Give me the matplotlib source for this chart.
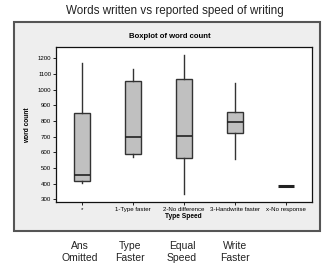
import matplotlib.pyplot as plt
from matplotlib.patches import Rectangle

plt.rcParams['font.family'] = ['Liberation Sans', 'DejaVu Sans']

# --- data ---
categories = ['*', '1-Type faster', '2-No difference', '3-Handwrite faster', 'x-No response']
whisker_lo = [405, 572, 336, 559, 387]
q1 = [417, 591, 564, 725, 387]
median = [453, 696, 706, 792, 387]
q3 = [849, 1057, 1070, 857, 387]
whisker_hi = [1168, 1130, 1221, 1042, 387]
yticks = [300, 400, 500, 600, 700, 800, 900, 1000, 1100, 1200]
bottom_labels = ['Ans\nOmitted', 'Type\nFaster', 'Equal\nSpeed', 'Write\nFaster']

W, H = 331, 269
fig = plt.figure(figsize=(W / 100, H / 100), dpi=100)
fig.patch.set_facecolor('white')

def fx(px):
    return px / W

def fy(py):
    return 1 - py / H

# grey panel behind the boxplot
panel = Rectangle((fx(14), fy(231)), fx(320) - fx(14), fy(22) - fy(231),
                  transform=fig.transFigure, facecolor='#eeeeee',
                  edgecolor='#555555', linewidth=1.5, zorder=-1)
fig.patches.append(panel)

fig.text(fx(175), fy(11), 'Words written vs reported speed of writing',
         ha='center', va='center', fontsize=8.4, color='#222222')
fig.text(fx(170), fy(37), 'Boxplot of word count', ha='center', va='center',
         fontsize=5.6, fontweight='bold')

ax = fig.add_axes([fx(56), fy(202), fx(312) - fx(56), fy(47) - fy(202)])
ax.set_zorder(1)
ax.set_facecolor('white')

stats = []
for i, name in enumerate(categories):
    stats.append({'label': name, 'whislo': whisker_lo[i], 'q1': q1[i],
                  'med': median[i], 'q3': q3[i], 'whishi': whisker_hi[i],
                  'fliers': []})

parts = ax.bxp(stats, positions=range(1, len(categories) + 1), widths=0.33,
               showcaps=False, patch_artist=True, showfliers=False,
               boxprops=dict(facecolor='#c0c0c0', edgecolor='#333333', linewidth=1),
               whiskerprops=dict(color='#333333', linewidth=1),
               medianprops=dict(color='#222222', linewidth=1.2))
# the single "no response" value shows as a heavy bar
parts['medians'][-1].set_linewidth(2.2)
parts['boxes'][-1].set_linewidth(0)

ax.set_xlim(0.49, 5.51)
ax.set_ylim(283, 1272)
ax.set_yticks(yticks)
ax.set_yticklabels([str(v) for v in yticks], fontsize=4.4)
ax.set_xticks(range(1, len(categories) + 1))
ax.set_xticklabels(categories, fontsize=4.4)
ax.tick_params(axis='both', direction='out', length=2, width=0.6, pad=1.5)
for s in ax.spines.values():
    s.set_linewidth(0.9)
    s.set_color('#111111')

fig.text(fx(28), fy(125), 'word count', rotation=90, ha='center', va='center',
         fontsize=4.8, fontweight='bold')
fig.text(fx(183), fy(217), 'Type Speed', ha='center', va='center',
         fontsize=4.8, fontweight='bold')

label_x = [80, 130, 182, 235]
for x, txt in zip(label_x, bottom_labels):
    fig.text(fx(x), fy(252), txt, ha='center', va='center', fontsize=7.5,
             linespacing=1.25, color='#222222')

fig.savefig('out.png', dpi=100)
